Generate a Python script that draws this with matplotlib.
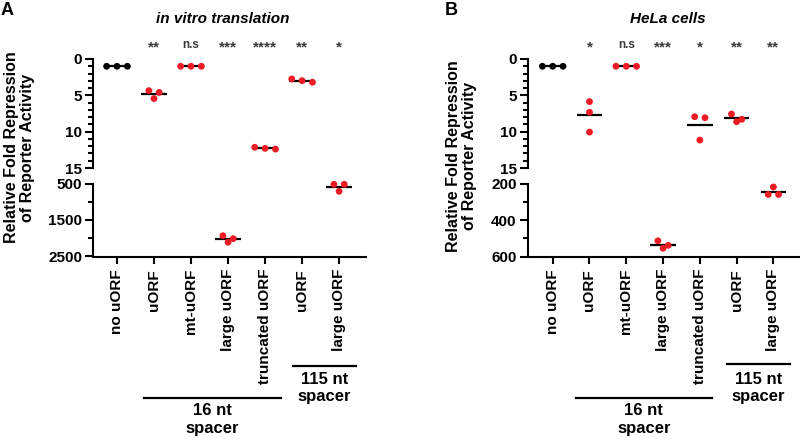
import numpy as np
import matplotlib.pyplot as plt
import matplotlib.transforms as mtransforms
from matplotlib.ticker import MultipleLocator, FixedLocator

plt.rcParams['font.family'] = ['Liberation Sans', 'DejaVu Sans']
plt.rcParams['font.weight'] = 'bold'

# data (fold repression, 3 replicates per construct)
categories = ["no uORF", "uORF", "mt-uORF", "large uORF", "truncated uORF", "uORF", "large uORF"]

vitro_vals = [
    [1.0, 1.0, 1.0],
    [4.35, 4.6, 5.45],
    [1.0, 1.0, 1.0],
    [1930, 2110, 2010],
    [12.4, 12.15, 12.3],
    [3.2, 2.75, 2.98],
    [522, 522, 714],
]
hela_vals = [
    [1.0, 1.0, 1.0],
    [5.86, 7.33, 10.06],
    [1.0, 1.0, 1.0],
    [514, 555, 539],
    [7.94, 8.08, 11.16],
    [7.57, 8.63, 8.3],
    [219, 260, 260],
]
vitro_sig = ["", "**", "n.s", "***", "****", "**", "*"]
hela_sig = ["", "*", "n.s", "***", "*", "**", "**"]

W, H = 800, 438
RED = '#EC1C24'

fig = plt.figure(figsize=(W / 100, H / 100), dpi=100)


def px_rect(x0, x1, ytop, ybot):
    return [x0 / W, 1 - ybot / H, (x1 - x0) / W, (ybot - ytop) / H]


def swarm_offsets(ax, values, thr=6.0, step=0.28):
    # simple row-based scatter spreading, done in screen pixels
    py = ax.transData.transform(np.column_stack([np.zeros(len(values)), values]))[:, 1]
    order = np.argsort(-py)
    rows = []
    for i in order:
        if rows and abs(py[i] - py[rows[-1][0]]) <= thr:
            rows[-1].append(i)
        else:
            rows.append([i])
    off = np.zeros(len(values))
    for r in rows:
        n = len(r)
        for k, i in enumerate(r):
            off[i] = (k - (n - 1) / 2) * step
    return off


def style_axis(ax):
    for s in ['top', 'right']:
        ax.spines[s].set_visible(False)
    for s in ['left', 'bottom']:
        ax.spines[s].set_linewidth(1.5)
    ax.tick_params(axis='y', which='major', length=6, width=1.5, labelsize=11, pad=2)
    ax.tick_params(axis='y', which='minor', length=3.5, width=1.5)
    ax.patch.set_alpha(0)


panels = [
    dict(x0=93.3, x1=366.5, xlim=(-0.64, 6.74), vals=vitro_vals, sig=vitro_sig,
         low_lim=(2500, 500), low_major=[500, 1500, 2500], low_minor=[1000, 2000],
         title="in vitro translation", title_x=222.5, letter="A", letter_x=1,
         ylab_xy=(19.7, 147.5), bar16=(0.72, 4.42), bar115=(4.76, 6.46), bar115_y=365.5),
    dict(x0=527.7, x1=799.5, xlim=(-0.68, 6.71), vals=hela_vals, sig=hela_sig,
         low_lim=(600, 200), low_major=[200, 400, 600], low_minor=[300, 500],
         title="HeLa cells", title_x=668, letter="B", letter_x=445,
         ylab_xy=(461.7, 155.8), bar16=(0.63, 4.32), bar115=(4.75, 6.45), bar115_y=364),
]

for p in panels:
    ax_up = fig.add_axes(px_rect(p['x0'], p['x1'], 59, 168))
    ax_lo = fig.add_axes(px_rect(p['x0'], p['x1'], 183.5, 256.5))

    ax_up.set_xlim(*p['xlim'])
    ax_lo.set_xlim(*p['xlim'])
    ax_up.set_ylim(15, 0)
    ax_lo.set_ylim(*p['low_lim'])

    style_axis(ax_up)
    style_axis(ax_lo)
    ax_up.spines['bottom'].set_visible(False)
    ax_up.set_xticks([])
    ax_up.yaxis.set_major_locator(MultipleLocator(5))
    ax_up.yaxis.set_minor_locator(MultipleLocator(1))
    ax_lo.yaxis.set_major_locator(FixedLocator(p['low_major']))
    ax_lo.yaxis.set_minor_locator(FixedLocator(p['low_minor']))

    ax_lo.set_xticks(range(len(categories)))
    ax_lo.set_xticklabels(categories, rotation=90, fontsize=11, va='top', ha='center')
    ax_lo.tick_params(axis='x', length=5, width=1.5, pad=4)

    for i, v in enumerate(p['vals']):
        v = np.array(v, dtype=float)
        ax = ax_up if v.max() <= 15 else ax_lo
        off = swarm_offsets(ax, v)
        col = 'black' if i == 0 else RED
        m = v.mean()
        ax.plot([i - 0.35, i + 0.35], [m, m], color='black', lw=1.6, zorder=2,
                solid_capstyle='butt', clip_on=False)
        ax.scatter(i + off, v, s=24, color=col, edgecolors='none', zorder=3, clip_on=False)

    # significance labels
    tr_up = mtransforms.blended_transform_factory(ax_up.transData, fig.transFigure)
    for i, s in enumerate(p['sig']):
        if not s:
            continue
        if s == "n.s":
            ax_up.text(i, 1 - 47.5 / H, s, transform=tr_up, ha='center', va='baseline',
                       fontsize=8.5, color='#3a3a3a', fontweight='bold')
        else:
            ax_up.text(i, 1 - 51.5 / H, s, transform=tr_up, ha='center', va='baseline',
                       fontsize=11, color='#3a3a3a', fontweight='bold')

    # spacer brackets below the labels
    tr_lo = mtransforms.blended_transform_factory(ax_lo.transData, fig.transFigure)
    b0, b1 = p['bar16']
    ax_lo.plot([b0, b1], [1 - 397.7 / H] * 2, transform=tr_lo, color='black', lw=1.6, clip_on=False)
    ax_lo.text((b0 + b1) / 2, 1 - 419.7 / H, "16 nt\nspacer", transform=tr_lo, ha='center',
               va='center', fontsize=12, linespacing=1.2, multialignment='center')
    c0, c1 = p['bar115']
    ax_lo.plot([c0, c1], [1 - p['bar115_y'] / H] * 2, transform=tr_lo, color='black', lw=1.6, clip_on=False)
    ax_lo.text((c0 + c1) / 2, 1 - 387.7 / H, "115 nt\nspacer", transform=tr_lo, ha='center',
               va='center', fontsize=12, linespacing=1.2, multialignment='center')

    fig.text(p['title_x'] / W, 1 - 19 / H, p['title'], ha='center', va='center',
             fontsize=11, style='italic', fontweight='bold')
    fig.text(p['letter_x'] / W, 1 - 2 / H, p['letter'], ha='left', va='top', fontsize=13,
             fontweight='bold')
    lx, ly = p['ylab_xy']
    fig.text(lx / W, 1 - ly / H, "Relative Fold Repression\nof Reporter Activity", rotation=90,
             ha='center', va='center', fontsize=11.5, multialignment='center', linespacing=1.1)

fig.savefig("out.png", dpi=100)
